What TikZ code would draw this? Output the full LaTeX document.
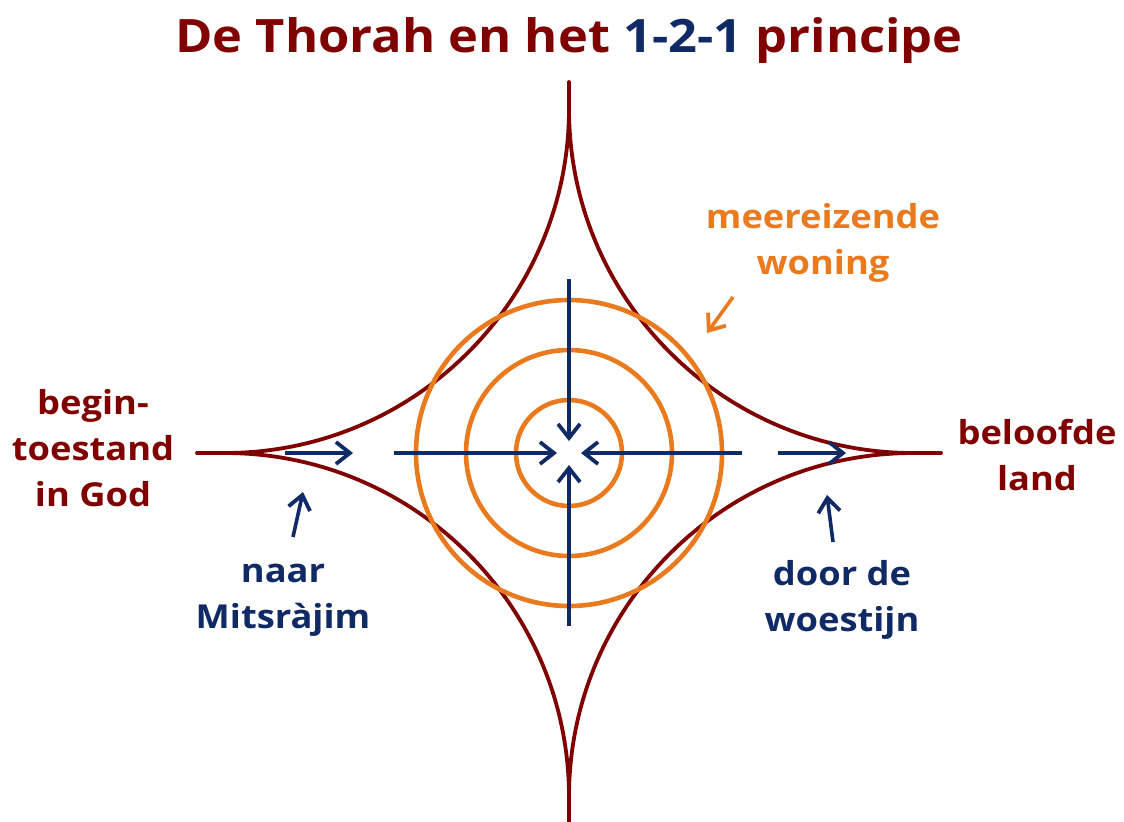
\documentclass[tikz,border=0pt]{standalone}
\usepackage{fontspec}
\setmainfont{Open Sans}[FakeStretch=1.1]
\usetikzlibrary{arrows.meta}
\definecolor{thorared}{RGB}{128,0,0}
\definecolor{pathblue}{RGB}{16,42,102}
\definecolor{homeorange}{RGB}{234,122,30}
\tikzset{
  starline/.style={thorared,line width=1.9pt,line cap=round},
  ring/.style={homeorange,line width=2.3pt},
  move/.style={pathblue,line width=1.8pt,-{Straight Barb[length=7pt,width=11pt,line width=1.9pt]}},
  pointer/.style={move},
  homepointer/.style={move,homeorange},
  lab/.style={font=\bfseries\fontsize{16.5}{23}\selectfont,align=center,inner sep=0pt},
  place/.style={lab,text=thorared},
  journey/.style={lab,text=pathblue},
  home/.style={lab,text=homeorange},
}
\begin{document}
\begin{tikzpicture}[x=0.5pt,y=-0.5pt]
  \path[use as bounding box,fill=white] (0,0) rectangle (1124,821);
  \node[font=\bfseries\fontsize{23}{27}\selectfont,text=thorared,anchor=base] (title) at (569,52)
    {De Thorah en het \textcolor{pathblue}{1-2-1} principe};

  % the four-pointed star
  \draw[starline] (569,109) arc[start angle=0,end angle=90,radius=344]
    arc[start angle=-90,end angle=0,radius=344]
    arc[start angle=180,end angle=270,radius=344]
    arc[start angle=90,end angle=180,radius=344];
  \draw[starline] (569,82) -- (569,109);
  \draw[starline] (197,453) -- (225,453);
  \draw[starline] (913,453) -- (941,453);
  \draw[starline] (569,797) -- (569,830);

  % dwelling rings
  \coordinate (mid) at (569,453);
  \foreach \r in {153,103,53}
    \draw[ring] (mid) circle[radius=\r];

  % inward arrows
  \coordinate (in-n) at (569,279);  \coordinate (tip-n) at (569,441);
  \coordinate (in-s) at (569,626);  \coordinate (tip-s) at (569,465);
  \coordinate (in-w) at (394,453);  \coordinate (tip-w) at (557,453);
  \coordinate (in-e) at (742,453);  \coordinate (tip-e) at (581,453);
  \draw[move] (in-n) -- (tip-n);
  \draw[move] (in-s) -- (tip-s);
  \draw[move] (in-w) -- (tip-w);
  \draw[move] (in-e) -- (tip-e);

  % outer journey arrows
  \coordinate (exodus-a) at (285,453); \coordinate (exodus-b) at (353,453);
  \coordinate (desert-a) at (778,453); \coordinate (desert-b) at (846,453);
  \draw[move] (exodus-a) -- (exodus-b);
  \draw[move] (desert-a) -- (desert-b);

  % labels
  \node[place] (begin) at (93,448) {begin-\\toestand\\in God};
  \node[place] (land) at (1037,455) {beloofde\\land};
  \node[home] (woning) at (823,243) {meereizende\\woning};
  \node[journey] (naar) at (283,600) {naar\\Mitsràjim};
  \node[journey] (door) at (842,600) {door de\\woestijn};

  \coordinate (naar-tip) at (303,492);  \coordinate (naar-tail) at (293,537);
  \coordinate (door-tip) at (827,495);  \coordinate (door-tail) at (833,542);
  \coordinate (home-tip) at (707,333);  \coordinate (home-tail) at (733,297);
  \draw[pointer] (naar-tail) -- (naar-tip);
  \draw[pointer] (door-tail) -- (door-tip);
  \draw[homepointer] (home-tail) -- (home-tip);
\end{tikzpicture}
\end{document}
